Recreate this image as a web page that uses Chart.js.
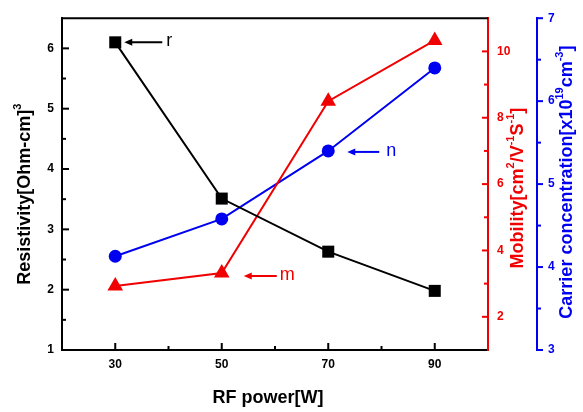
<!DOCTYPE html>
<html lang="en">
<head>
<meta charset="UTF-8">
<title>RF power vs resistivity, mobility and carrier concentration</title>
<script src="https://cdn.jsdelivr.net/npm/chart.js@4"></script>
<style>
  html, body { margin: 0; padding: 0; background: #fff; }
</style>
</head>
<body>
<canvas id="chart" width="583" height="412"></canvas>
<script>
// values
const rfPower = [30, 50, 70, 90];
const resistivity = [6.1, 3.51, 2.63, 1.98];
const mobility = [2.93, 3.32, 8.5, 10.33];
const carrier = [4.13, 4.58, 5.40, 6.40];

const xTickLabels = [30, 50, 70, 90];
const resTickLabels = [1, 2, 3, 4, 5, 6];
const mobTickLabels = [2, 4, 6, 8, 10];
const carTickLabels = [3, 4, 5, 6, 7];

const RED = '#f00000';
const BLUE = '#0000f0';
const FONT = "'Liberation Sans', Arial, sans-serif";

Chart.defaults.font.family = FONT;

function pts(ys) {
    return rfPower.map((x, i) => ({ x: x, y: ys[i] }));
}

function labelIf(list) {
    return v => list.some(t => Math.abs(t - v) < 1e-6) ? String(v) : '';
}

function drawLine(ctx, x1, y1, x2, y2, color, w) {
    ctx.beginPath();
    ctx.moveTo(x1, y1);
    ctx.lineTo(x2, y2);
    ctx.strokeStyle = color;
    ctx.lineWidth = w;
    ctx.stroke();
}

function arrow(ctx, tipX, tailX, y, color) {
    drawLine(ctx, tipX + 6, y, tailX, y, color, 2);
    ctx.beginPath();
    ctx.moveTo(tipX, y);
    ctx.lineTo(tipX + 8, y - 3.5);
    ctx.lineTo(tipX + 8, y + 3.5);
    ctx.closePath();
    ctx.fillStyle = color;
    ctx.fill();
}

// axis title with superscripts
function richText(ctx, parts, cx, cy, color, rot) {
    const big = 'bold 18px ' + FONT;
    const small = 'bold 11px ' + FONT;
    let w = 0;
    parts.forEach(p => {
        ctx.font = p.sup ? small : big;
        p.w = ctx.measureText(p.t).width;
        w += p.w;
    });
    ctx.save();
    ctx.translate(cx, cy);
    ctx.rotate(rot);
    ctx.fillStyle = color;
    ctx.textBaseline = 'middle';
    ctx.textAlign = 'left';
    let x = -w / 2;
    parts.forEach(p => {
        ctx.font = p.sup ? small : big;
        ctx.fillText(p.t, x, p.sup ? -7 : 0);
        x += p.w;
    });
    ctx.restore();
}

const decor = {
    id: 'decor',
    afterDraw(chart) {
        const ctx = chart.ctx;
        const a = chart.chartArea;
        const s = chart.scales;
        ctx.save();

        // top frame line
        drawLine(ctx, a.left - 1, a.top, a.right, a.top, '#000', 2);

        // inward tick marks
        s.x.ticks.forEach(t => {
            if (t.value <= s.x.min || t.value >= s.x.max) return;
            const p = s.x.getPixelForValue(t.value);
            const len = xTickLabels.includes(t.value) ? 7 : 4;
            drawLine(ctx, p, a.bottom, p, a.bottom - len, '#000', 2);
        });
        s.y.ticks.forEach(t => {
            if (t.value <= s.y.min || t.value >= s.y.max) return;
            const p = s.y.getPixelForValue(t.value);
            const len = resTickLabels.includes(t.value) ? 7 : 4;
            drawLine(ctx, a.left, p, a.left + len, p, '#000', 2);
        });
        s.y1.ticks.forEach(t => {
            if (t.value <= s.y1.min || t.value >= s.y1.max) return;
            const p = s.y1.getPixelForValue(t.value);
            const len = mobTickLabels.includes(t.value) ? 6 : 4;
            drawLine(ctx, a.right, p, a.right - len, p, RED, 2);
        });
        s.y2.ticks.forEach(t => {
            const p = s.y2.getPixelForValue(t.value);
            const len = carTickLabels.includes(t.value) ? 6 : 4;
            drawLine(ctx, s.y2.left, p, s.y2.left + len, p, BLUE, 2);
        });

        // arrows and letters
        ctx.font = '18px ' + FONT;
        ctx.textBaseline = 'middle';
        ctx.textAlign = 'left';

        let px = s.x.getPixelForValue(rfPower[0]);
        let py = s.y.getPixelForValue(resistivity[0]);
        arrow(ctx, px + 9, px + 47, py, '#000');
        ctx.fillStyle = '#000';
        ctx.fillText('r', px + 51, py - 1);

        px = s.x.getPixelForValue(rfPower[1]);
        py = s.y1.getPixelForValue(mobility[1]) + 3;
        arrow(ctx, px + 22, px + 55, py, RED);
        ctx.fillStyle = RED;
        ctx.fillText('m', px + 58, py - 1);

        px = s.x.getPixelForValue(rfPower[2]);
        py = s.y2.getPixelForValue(carrier[2]) + 1;
        arrow(ctx, px + 19, px + 51, py, BLUE);
        ctx.fillStyle = BLUE;
        ctx.fillText('n', px + 58, py - 1);

        // axis titles
        const midY = (a.top + a.bottom) / 2;
        richText(ctx, [{ t: 'Resistivity[Ohm-cm]' }, { t: '3', sup: true }],
            a.left - 37, midY + 10, '#000', -Math.PI / 2);
        richText(ctx, [{ t: 'Mobility[cm' }, { t: '2', sup: true }, { t: '/V' },
            { t: '-1', sup: true }, { t: 'S' }, { t: '-1', sup: true }, { t: ']' }],
            a.right + 30, midY + 4, RED, -Math.PI / 2);
        richText(ctx, [{ t: 'Carrier concentration[x10' }, { t: '19', sup: true },
            { t: 'cm' }, { t: '-3', sup: true }, { t: ']' }],
            s.y2.left + 30, midY - 2, BLUE, -Math.PI / 2);
        richText(ctx, [{ t: 'RF power[W]' }], (a.left + a.right) / 2 - 7, 398, '#000', 0);

        ctx.restore();
    }
};

const tickFont = { size: 12, weight: 'bold' };

new Chart(document.getElementById('chart'), {
    type: 'line',
    data: {
        datasets: [
            {
                label: 'Resistivity',
                data: pts(resistivity),
                yAxisID: 'y',
                borderColor: '#000',
                backgroundColor: '#000',
                borderWidth: 2,
                pointStyle: 'rect',
                pointRadius: 8.5,
                pointBorderWidth: 0,
                clip: false
            },
            {
                label: 'Mobility',
                data: pts(mobility),
                yAxisID: 'y1',
                borderColor: RED,
                backgroundColor: RED,
                borderWidth: 2,
                pointStyle: 'triangle',
                pointRadius: 9,
                pointBorderWidth: 0,
                clip: false
            },
            {
                label: 'Carrier concentration',
                data: pts(carrier),
                yAxisID: 'y2',
                borderColor: BLUE,
                backgroundColor: BLUE,
                borderWidth: 2,
                pointStyle: 'circle',
                pointRadius: 6.5,
                pointBorderWidth: 0,
                clip: false
            }
        ]
    },
    options: {
        responsive: false,
        animation: false,
        layout: { padding: { top: 13, left: 0, right: 0, bottom: 0 } },
        plugins: {
            legend: { display: false },
            tooltip: { enabled: false }
        },
        scales: {
            x: {
                type: 'linear',
                min: 20,
                max: 100,
                afterFit: sc => { sc.height = 62; },
                grid: { drawOnChartArea: false, drawTicks: false },
                border: { color: '#000', width: 2 },
                ticks: {
                    stepSize: 10,
                    autoSkip: false,
                    maxRotation: 0,
                    padding: 7,
                    color: '#000',
                    font: tickFont,
                    callback: labelIf(xTickLabels)
                }
            },
            y: {
                position: 'left',
                min: 1,
                max: 6.5,
                afterFit: sc => { sc.width = 62; },
                grid: { drawOnChartArea: false, drawTicks: false },
                border: { color: '#000', width: 2 },
                ticks: {
                    stepSize: 0.5,
                    autoSkip: false,
                    padding: 8,
                    color: '#000',
                    font: tickFont,
                    callback: labelIf(resTickLabels)
                }
            },
            y1: {
                position: 'right',
                weight: 1,
                min: 1,
                max: 11,
                afterFit: sc => { sc.width = 49; },
                grid: { drawOnChartArea: false, drawTicks: false },
                border: { color: RED, width: 2 },
                ticks: {
                    stepSize: 1,
                    autoSkip: false,
                    padding: 9,
                    color: RED,
                    font: tickFont,
                    callback: labelIf(mobTickLabels)
                }
            },
            y2: {
                position: 'right',
                weight: 2,
                min: 3,
                max: 7,
                afterFit: sc => { sc.width = 46; },
                grid: { drawOnChartArea: false, drawTicks: false },
                border: { color: BLUE, width: 2 },
                ticks: {
                    stepSize: 0.5,
                    autoSkip: false,
                    padding: 11,
                    color: BLUE,
                    font: tickFont,
                    callback: labelIf(carTickLabels)
                }
            }
        }
    },
    plugins: [decor]
});
</script>
</body>
</html>
